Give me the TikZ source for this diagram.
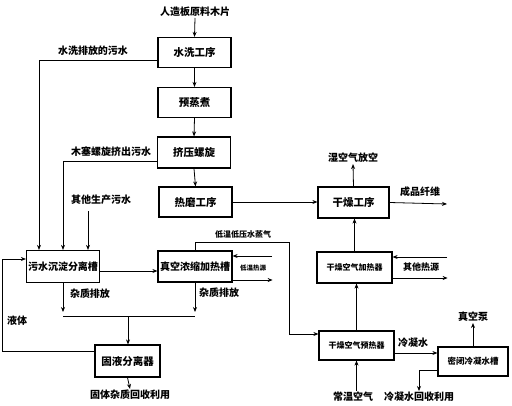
\documentclass[tikz,border=0pt]{standalone}
\usepackage{fontspec}
\setmainfont{Noto Sans CJK SC}
\usetikzlibrary{arrows.meta}
\tikzset{
  box/.style={draw, line width=1.2pt, minimum width=73pt, minimum height=30pt, inner sep=0pt, font=\fontsize{10.5}{12}\selectfont\bfseries},
  lbl/.style={inner sep=1pt, font=\fontsize{10}{12}\selectfont\bfseries},
  arr/.style={-{Stealth[length=5pt,width=4pt]}, line width=0.8pt},
  ln/.style={line width=0.8pt}
}
\begin{document}
\begin{tikzpicture}[x=1pt, y=-1pt]
  \useasboundingbox (0,0) rectangle (512,405);

  % Main process column
  \node[box] (wash) at (194.5,52.5) {水洗工序};
  \node[box] (steam) at (194.5,102.5) {预蒸煮};
  \node[box, minimum height=31pt] (screw) at (194,152.5) {挤压螺旋};
  \node[box] (refine) at (195.5,202) {热磨工序};
  \node[box, minimum width=71pt, minimum height=31pt] (dry) at (353.5,202.5) {干燥工序};

  % Waste water treatment
  \node[box, minimum height=32pt, font=\fontsize{10}{12}\selectfont\bfseries] (settle) at (63,266.5) {污水沉淀分离槽};
  \node[box, minimum width=74pt, minimum height=31pt, font=\fontsize{10}{12}\selectfont\bfseries] (vac) at (195,266.5) {真空浓缩加热槽};
  \node[box, minimum width=65pt, minimum height=32pt] (sep) at (127.5,361) {固液分离器};

  % Drying air
  \node[box, minimum width=75pt, minimum height=31pt, font=\fontsize{8}{10}\selectfont\bfseries] (heater) at (354.5,267.5) {干燥空气加热器};
  \node[box, minimum width=75pt, minimum height=29pt, font=\fontsize{8}{10}\selectfont\bfseries] (pre) at (356.5,345.5) {干燥空气预热器};
  \node[box, minimum width=70pt, minimum height=29pt, font=\fontsize{8.5}{10}\selectfont\bfseries] (tank) at (473,361.5) {密闭冷凝水槽};

  % Labels
  \node[lbl] (chips) at (195,12) {人造板原料木片};
  \node[lbl] (washtxt) at (93,51) {水洗排放的污水};
  \node[lbl] (screwtxt) at (111,152) {木塞螺旋挤出污水};
  \node[lbl] (othertxt) at (101,200) {其他生产污水};
  \node[lbl] (liqtxt) at (17,321) {液体};
  \node[lbl] (imp1) at (90,294) {杂质排放};
  \node[lbl] (imp2) at (219,293) {杂质排放};
  \node[lbl] (solid) at (130,395) {固体杂质回收利用};
  \node[lbl] (wetair) at (353,158) {湿空气放空};
  \node[lbl] (fiber) at (420,192) {成品纤维};
  \node[lbl, font=\fontsize{8}{10}\selectfont\bfseries] (vapour) at (243,234) {低温低压水蒸气};
  \node[lbl, font=\fontsize{6.5}{8}\selectfont\bfseries] (lowheat) at (253,268) {低温热源};
  \node[lbl, font=\fontsize{9}{10}\selectfont\bfseries] (otherheat) at (421,267) {其他热源};
  \node[lbl] (condtxt) at (413,343) {冷凝水};
  \node[lbl] (pump) at (473,317) {真空泵};
  \node[lbl] (air) at (353,397) {常温空气};
  \node[lbl] (condrec) at (419,397) {冷凝水回收利用};

  % Helper points
  \coordinate (otherin) at (88,211);
  \coordinate (mix) at (128,316);
  \coordinate (stturn) at (289,242);
  \coordinate (lhin) at (272,256);
  \coordinate (ohin) at (447,257);
  \coordinate (fiberend) at (447,204);
  \coordinate (washout) at ([yshift=-7.5pt]wash.west);
  \coordinate (screwout) at ([yshift=-8.5pt]screw.west);
  \coordinate (settlein) at ([xshift=-24pt]settle.north);
  \coordinate (otherdrop) at ([xshift=25pt]settle.north);
  \coordinate (condout) at ([yshift=-7.5pt]pre.east);

  % Main line
  \draw[arr] (chips.south) -- (wash.north);
  \draw[arr] (wash.south) -- (steam.north);
  \draw[arr] (steam.south) -- (screw.north);
  \draw[arr] (screw.south) -- (refine.north);
  \draw[arr] (refine.east) -- (refine.east -| dry.west);
  \draw[arr] (dry.north) -- (wetair.south);
  \draw[arr] (dry.east) -- (fiberend);

  % Waste water into the settling tank
  \draw[arr] (washout) -| (settlein);
  \draw[arr] (screwout) -| (settle.north);
  \draw[arr] (otherin) -- (otherdrop);
  \draw[arr] ([yshift=-4.5pt]settle.east) -- ([yshift=-4.5pt]vac.west);
  \draw[arr] ([yshift=10pt]sep.west) -- ++(-92,0) |- ([yshift=7.5pt]settle.west);

  % Impurities
  \draw[arr, shorten >=4pt] (settle.south) -- (settle.south |- mix);
  \draw[arr, shorten >=4pt] (vac.south) -- (vac.south |- mix);
  \draw[ln] (settle.south |- mix) -- (vac.south |- mix);
  \draw[arr] (mix) -- (mix |- sep.north);
  \draw[arr] (sep.south) -- (solid.north);

  % Vapour and heat
  \draw[arr] (vac.north) |- (stturn) |- ([yshift=11.5pt]pre.west);
  \draw[arr] (lhin) -- (lhin -| vac.east);
  \draw[arr] ([yshift=-13.5pt]vac.east) -- ++(40,0);
  \draw[arr] (ohin) -- (ohin -| heater.east);
  \draw[arr] ([yshift=-10.5pt]heater.east) -- ++(55,0);
  \draw[arr] (pre.north) -- (pre.north |- heater.south);
  \draw[arr] (heater.north) -- (heater.north |- dry.south);
  \draw[arr] (pre.south |- air.north) -- (pre.south);

  % Condensate
  \draw[arr] (condout) -- (condout -| tank.west);
  \draw[arr] (tank.north) -- (pump.south);
  \draw[arr] ([yshift=-8.5pt]tank.west) -| (condrec.north);
\end{tikzpicture}
\end{document}
